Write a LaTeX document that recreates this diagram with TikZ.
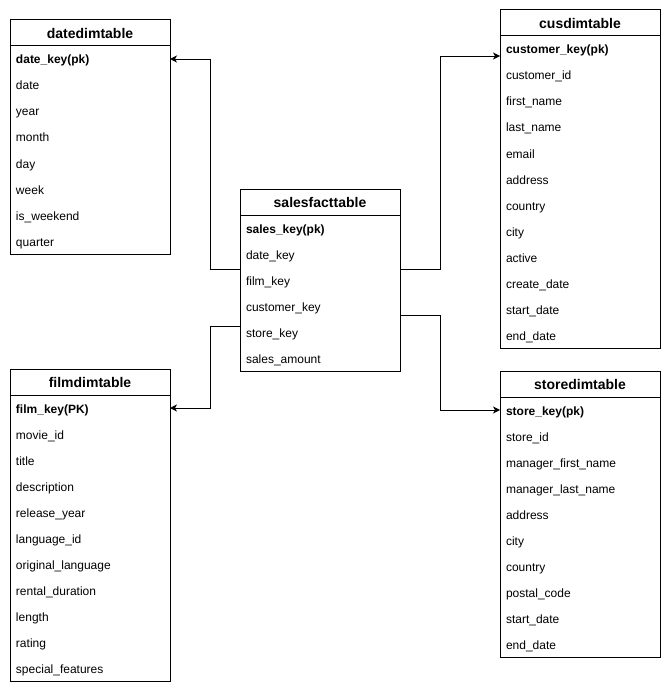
\documentclass[tikz,border=0pt]{standalone}
\usepackage{fontspec}
\setmainfont{Liberation Sans}
\usetikzlibrary{arrows.meta,calc,positioning}

\tikzset{
  headrow/.style={minimum width=160pt, minimum height=26pt, inner sep=0pt, outer sep=0pt,
    text height=12pt, text depth=1pt,
    font=\fontsize{14}{16}\selectfont\bfseries, anchor=north west},
  fieldrow/.style={text width=148pt, inner xsep=6pt, inner ysep=0pt, outer sep=0pt,
    text height=11pt, text depth=1pt,
    minimum height=26pt, align=left, font=\fontsize{12}{14}\selectfont},
  tableline/.style={line width=1pt},
  link/.style={-{Stealth[length=7pt,width=7pt,inset=2pt]}, line width=0.9pt},
}

% table: name, position, title, fields (first one is the key)
\newcommand{\dbtable}[4]{%
  \node[headrow] (#1-0) at (#2) {#3};
  \foreach \fld [count=\i] in {#4} {
    \pgfmathtruncatemacro\prevrow{\i-1}
    \ifnum\i=1 \def\keyfont{\bfseries}\else\def\keyfont{}\fi
    \node[fieldrow, below=0pt of #1-\prevrow] (#1-\i) {\keyfont\fld};
    \xdef\lastrow{\i}
  }
  \draw[tableline] (#1-0.north west) rectangle (#1-\lastrow.south east);
  \draw[tableline] (#1-0.south west) -- (#1-0.south east);
}

\begin{document}
\begin{tikzpicture}[x=1pt,y=-1pt]
  \useasboundingbox (0,0) rectangle (671,695);

  \dbtable{date}{10,20}{datedimtable}
    {date\_key(pk), date, year, month, day, week, is\_weekend, quarter}
  \dbtable{fact}{240,189}{salesfacttable}
    {sales\_key(pk), date\_key, film\_key, customer\_key, store\_key, sales\_amount}
  \dbtable{cus}{500,10}{cusdimtable}
    {customer\_key(pk), customer\_id, first\_name, last\_name, email, address,
     country, city, active, create\_date, start\_date, end\_date}
  \dbtable{film}{10,369}{filmdimtable}
    {film\_key(PK), movie\_id, title, description, release\_year, language\_id,
     original\_language, rental\_duration, length, rating, special\_features}
  \dbtable{store}{500,371}{storedimtable}
    {store\_key(pk), store\_id, manager\_first\_name, manager\_last\_name, address,
     city, country, postal\_code, start\_date, end\_date}

  % fact table to the dimension tables
  \draw[link] ($(fact-0.north west)+(0,80)$) -- ++(-30,0) |- (date-1.east);
  \draw[link] ($(fact-0.north east)+(0,80)$) -- ++(40,0) |- ([yshift=-7pt]cus-1.west);
  \draw[link] ($(fact-0.north west)+(0,137)$) -- ++(-30,0) |- (film-1.east);
  \draw[link] ($(fact-0.north east)+(0,126)$) -- ++(40,0) |- (store-1.west);
\end{tikzpicture}
\end{document}
